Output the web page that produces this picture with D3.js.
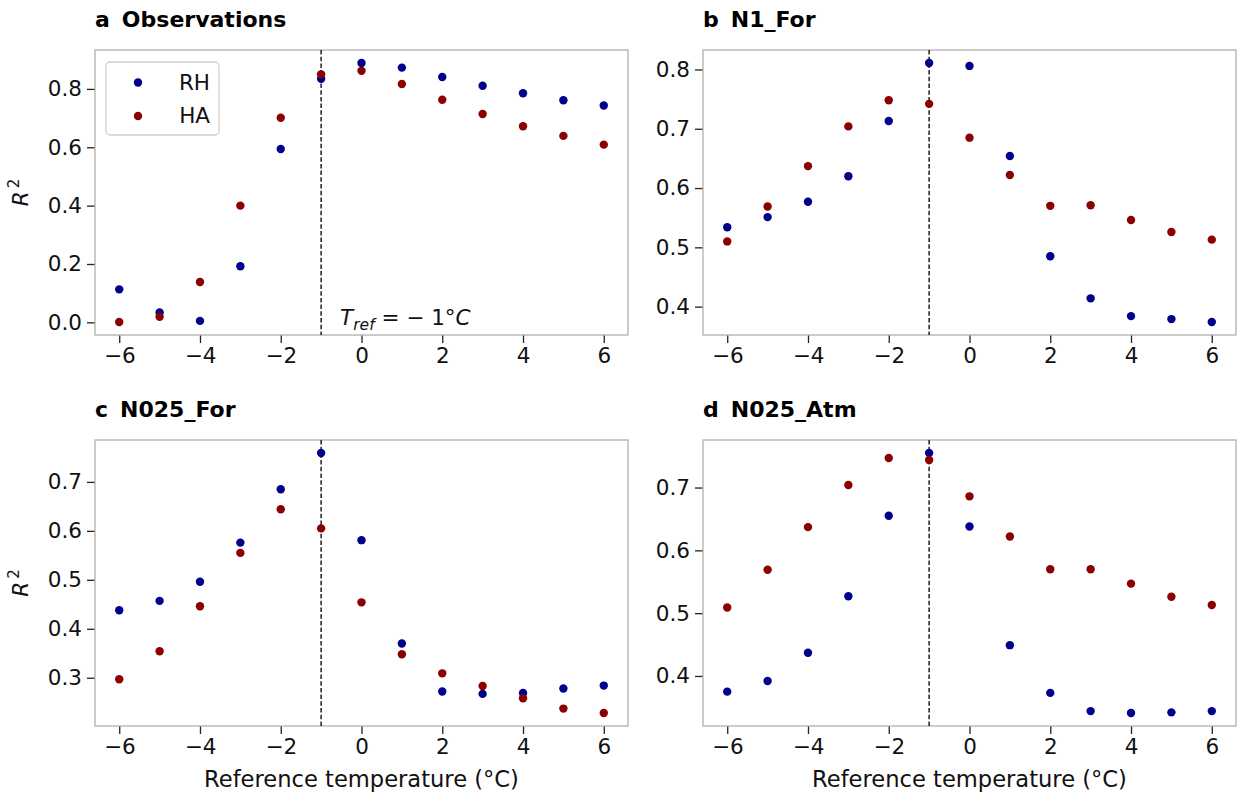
<!DOCTYPE html>
<html>
<head>
<meta charset="utf-8">
<script src="https://cdn.jsdelivr.net/npm/d3@7"></script>
<style>
  body { margin: 0; background: #fff; }
  svg { display: block; font-family: "DejaVu Sans", sans-serif; }
</style>
</head>
<body>
<svg id="chart" width="1241" height="796"></svg>
<script>
const temps = [-6, -5, -4, -3, -2, -1, 0, 1, 2, 3, 4, 5, 6];

const obsRH = [0.113, 0.034, 0.005, 0.192, 0.594, 0.835, 0.889, 0.873, 0.841, 0.811, 0.785, 0.761, 0.743];
const obsHA = [0.001, 0.019, 0.138, 0.400, 0.701, 0.850, 0.862, 0.817, 0.763, 0.714, 0.672, 0.639, 0.609];

const n1ForRH = [0.534, 0.551, 0.577, 0.620, 0.713, 0.811, 0.806, 0.654, 0.485, 0.414, 0.384, 0.379, 0.374];
const n1ForHA = [0.510, 0.569, 0.637, 0.704, 0.748, 0.742, 0.685, 0.622, 0.570, 0.571, 0.546, 0.526, 0.513];

const n025ForRH = [0.438, 0.457, 0.496, 0.576, 0.685, 0.759, 0.581, 0.370, 0.272, 0.267, 0.269, 0.278, 0.284];
const n025ForHA = [0.297, 0.354, 0.446, 0.555, 0.644, 0.605, 0.454, 0.348, 0.309, 0.283, 0.258, 0.237, 0.228];

const n025AtmRH = [0.375, 0.392, 0.437, 0.527, 0.655, 0.755, 0.638, 0.449, 0.373, 0.344, 0.341, 0.342, 0.344];
const n025AtmHA = [0.509, 0.569, 0.637, 0.704, 0.747, 0.744, 0.686, 0.622, 0.570, 0.570, 0.547, 0.526, 0.513];

const xTicks = [-6, -4, -2, 0, 2, 4, 6];
const yTicksA = [0.0, 0.2, 0.4, 0.6, 0.8];
const yTicksB = [0.4, 0.5, 0.6, 0.7, 0.8];
const yTicksC = [0.3, 0.4, 0.5, 0.6, 0.7];
const yTicksD = [0.4, 0.5, 0.6, 0.7];
const refTemp = -1;
const seriesNames = ["RH", "HA"];
const colors = {RH: "#00008b", HA: "#8b0000"};

const panels = [
  {letter: "a", title: "Observations", rh: obsRH, ha: obsHA, yTicks: yTicksA,
   left: 95, right: 628, top: 50, bottom: 335, ylabel: true, xlabel: false, legend: true, note: true},
  {letter: "b", title: "N1_For", rh: n1ForRH, ha: n1ForHA, yTicks: yTicksB,
   left: 703, right: 1236, top: 50, bottom: 335, ylabel: false, xlabel: false},
  {letter: "c", title: "N025_For", rh: n025ForRH, ha: n025ForHA, yTicks: yTicksC,
   left: 95, right: 628, top: 440, bottom: 726, ylabel: true, xlabel: true},
  {letter: "d", title: "N025_Atm", rh: n025AtmRH, ha: n025AtmHA, yTicks: yTicksD,
   left: 703, right: 1236, top: 440, bottom: 726, ylabel: false, xlabel: true}
];

const FS = 21.5;
const svg = d3.select("#chart");
const minus = s => s.replace("-", "\u2212");

panels.forEach(p => {
  const all = p.rh.concat(p.ha);
  const lo = d3.min(all), hi = d3.max(all), pad = (hi - lo) * 0.05;
  const x = d3.scaleLinear().domain([-6.6, 6.6]).range([p.left, p.right]);
  const y = d3.scaleLinear().domain([lo - pad, hi + pad]).range([p.bottom, p.top]);

  const g = svg.append("g");

  // title
  const t = g.append("text").attr("x", p.left).attr("y", p.top - 23)
    .style("font-size", "22px").style("font-weight", "bold").attr("fill", "#000");
  t.append("tspan").text(p.letter);
  t.append("tspan").attr("dx", "12").text(p.title);

  // axes
  const xAxis = d3.axisBottom(x).tickValues(xTicks).tickSize(8).tickPadding(5)
    .tickFormat(d => minus(d3.format("d")(d)));
  const yAxis = d3.axisLeft(y).tickValues(p.yTicks).tickSize(8).tickPadding(5)
    .tickFormat(d => minus(d3.format(".1f")(d)));

  const gx = g.append("g").attr("transform", `translate(0,${p.bottom})`).call(xAxis);
  const gy = g.append("g").attr("transform", `translate(${p.left},0)`).call(yAxis);
  [gx, gy].forEach(a => {
    a.attr("font-size", null).attr("font-family", null);
    a.select(".domain").remove();
    a.selectAll(".tick line").attr("stroke", "#222").attr("stroke-width", 1.3);
    a.selectAll(".tick text").attr("fill", "#111").style("font-size", FS + "px")
      .style("font-family", "'DejaVu Sans', sans-serif");
  });

  // frame
  g.append("rect").attr("x", p.left).attr("y", p.top)
    .attr("width", p.right - p.left).attr("height", p.bottom - p.top)
    .attr("fill", "none").attr("stroke", "#b0b0b0").attr("stroke-width", 1.3);

  // reference line
  g.append("line").attr("x1", x(refTemp)).attr("x2", x(refTemp))
    .attr("y1", p.top).attr("y2", p.bottom)
    .attr("stroke", "#111").attr("stroke-width", 1.4).attr("stroke-dasharray", "4.5,2.2");

  // points
  const series = [{name: "RH", vals: p.rh}, {name: "HA", vals: p.ha}];
  series.forEach(s => {
    g.append("g").selectAll("circle").data(temps.map((tt, i) => [tt, s.vals[i]]))
      .join("circle")
      .attr("cx", d => x(d[0])).attr("cy", d => y(d[1])).attr("r", 4.2)
      .attr("fill", colors[s.name]);
  });

  if (p.ylabel) {
    const cy = (p.top + p.bottom) / 2;
    const yl = g.append("text").attr("transform", `translate(28,${cy}) rotate(-90)`)
      .attr("text-anchor", "middle").style("font-size", FS + "px").attr("fill", "#111");
    yl.append("tspan").style("font-style", "italic").text("R");
    yl.append("tspan").attr("dy", "-9").attr("dx", "3").style("font-size", "15px").text("2");
  }
  if (p.xlabel) {
    g.append("text").attr("x", (p.left + p.right) / 2).attr("y", p.bottom + 61)
      .attr("text-anchor", "middle").style("font-size", "22.6px").attr("fill", "#111")
      .text("Reference temperature (°C)");
  }
  if (p.legend) {
    const lg = g.append("g");
    lg.append("rect").attr("x", p.left + 11).attr("y", p.top + 12)
      .attr("width", 113).attr("height", 73).attr("rx", 4)
      .attr("fill", "#fff").attr("fill-opacity", 0.8).attr("stroke", "#d0d0d0").attr("stroke-width", 1.3);
    seriesNames.forEach((nm, i) => {
      const ly = p.top + 32.5 + i * 33.5;
      lg.append("circle").attr("cx", p.left + 43).attr("cy", ly).attr("r", 4.2).attr("fill", colors[nm]);
      lg.append("text").attr("x", p.left + 115).attr("y", ly + 7).attr("text-anchor", "end")
        .style("font-size", FS + "px").attr("fill", "#111").text(nm);
    });
  }
  if (p.note) {
    const nt = g.append("text").attr("x", x(refTemp) + 19).attr("y", p.bottom - 10)
      .style("font-size", FS + "px").attr("fill", "#111");
    nt.append("tspan").style("font-style", "italic").text("T");
    nt.append("tspan").attr("dy", "5").style("font-style", "italic").style("font-size", "15.5px").text("ref");
    nt.append("tspan").attr("dy", "-5").text(" = \u2212 1°");
    nt.append("tspan").style("font-style", "italic").text("C");
  }
});
</script>
</body>
</html>
